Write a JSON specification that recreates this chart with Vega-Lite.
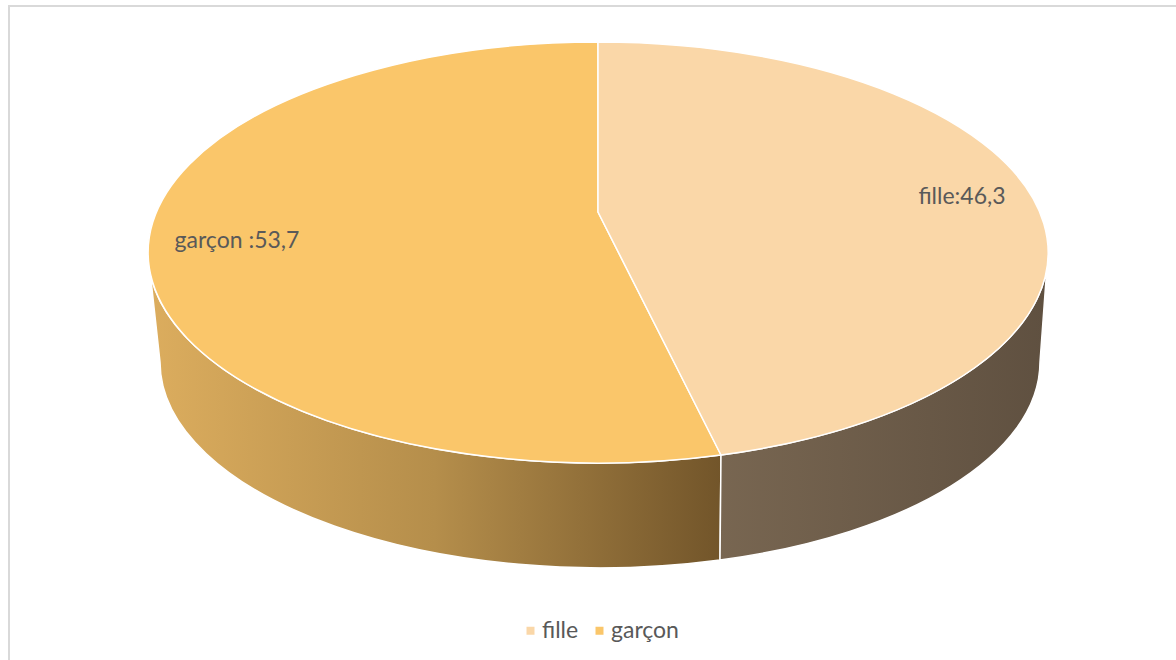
{
  "$schema": "https://vega.github.io/schema/vega-lite/v6.json",
  "width": 1176,
  "height": 660,
  "autosize": {"type": "fit", "contains": "padding"},
  "padding": {"left": 9, "top": 6, "right": -2, "bottom": -2},
  "background": "white",
  "view": {"stroke": "#d9d9d9", "strokeWidth": 2, "fill": "white"},
  "config": {
    "view": {"stroke": "#d9d9d9", "strokeWidth": 2},
    "style": {"cell": {"stroke": "#d9d9d9", "strokeWidth": 2}},
    "font": "Lato"
  },
  "data": {
    "values": [
      {"sexe": "fille", "part": 46.3, "label": "fille:46,3"},
      {"sexe": "garçon", "part": 53.7, "label": "garçon :53,7"}
    ]
  },
  "layer": [
    {
      "mark": {"type": "point", "shape": "square", "filled": true, "opacity": 1, "size": 64, "strokeWidth": 0},
      "encoding": {
        "color": {
          "field": "sexe",
          "type": "nominal",
          "scale": {"domain": ["fille", "garçon"], "range": ["#fad7a8", "#fac66a"]},
          "legend": {
            "title": null,
            "orient": "none",
            "direction": "horizontal",
            "legendX": 510,
            "legendY": 613,
            "symbolType": "square",
            "symbolSize": 64,
            "symbolStrokeWidth": 0,
            "labelFontSize": 23,
            "labelColor": "#595959",
            "labelFont": "Lato",
            "labelOffset": 0,
            "columnPadding": 9
          }
        }
      }
    },
    {
      "transform": [{"filter": "datum.sexe === 'garçon'"}],
      "mark": {
        "type": "point",
        "filled": true,
        "opacity": 1,
        "size": 4,
        "shape": "M -445.5 -81.5 A 450 210.5 0 0 0 127.5 121 L 126.5 226 A 440 206 0 0 1 -433.5 28 Z",
        "fill": {
          "gradient": "linear", "x1": 0, "y1": 0, "x2": 1, "y2": 0,
          "stops": [
            {"offset": 0, "color": "#dcad5e"},
            {"offset": 0.5, "color": "#b58e4b"},
            {"offset": 1, "color": "#72552a"}
          ]
        },
        "stroke": "white",
        "strokeWidth": 1.5
      },
      "encoding": {}
    },
    {
      "transform": [{"filter": "datum.sexe === 'fille'"}],
      "mark": {
        "type": "point",
        "filled": true,
        "opacity": 1,
        "size": 4,
        "shape": "M 127.5 121 A 450 210.5 0 0 0 454.5 -81.5 L 446.5 28 A 440 206 0 0 1 126.5 226 Z",
        "fill": {
          "gradient": "linear", "x1": 0, "y1": 0, "x2": 1, "y2": 0,
          "stops": [
            {"offset": 0, "color": "#786651"},
            {"offset": 1, "color": "#5f5040"}
          ]
        },
        "stroke": "white",
        "strokeWidth": 1.5
      },
      "encoding": {}
    },
    {
      "transform": [{"filter": "datum.sexe === 'garçon'"}],
      "mark": {
        "type": "point",
        "filled": true,
        "opacity": 1,
        "size": 4,
        "shape": "M 4.5 -122 L 127.5 121 A 450 210.5 0 1 1 4.5 -292 Z",
        "fill": "#fac66a",
        "stroke": "white",
        "strokeWidth": 1.5
      },
      "encoding": {}
    },
    {
      "transform": [{"filter": "datum.sexe === 'fille'"}],
      "mark": {
        "type": "point",
        "filled": true,
        "opacity": 1,
        "size": 4,
        "shape": "M 4.5 -122 L 4.5 -292 A 450 210.5 0 0 1 127.5 121 Z",
        "fill": "#fad7a8",
        "stroke": "white",
        "strokeWidth": 1.5
      },
      "encoding": {}
    },
    {
      "transform": [{"filter": "datum.sexe === 'fille'"}],
      "mark": {"type": "text", "dx": 368.5, "dy": -137, "fontSize": 23, "color": "#595959", "align": "center", "baseline": "middle"},
      "encoding": {"text": {"field": "label"}}
    },
    {
      "transform": [{"filter": "datum.sexe === 'garçon'"}],
      "mark": {"type": "text", "dx": -356.5, "dy": -93, "fontSize": 23, "color": "#595959", "align": "center", "baseline": "middle"},
      "encoding": {"text": {"field": "label"}}
    }
  ]
}
